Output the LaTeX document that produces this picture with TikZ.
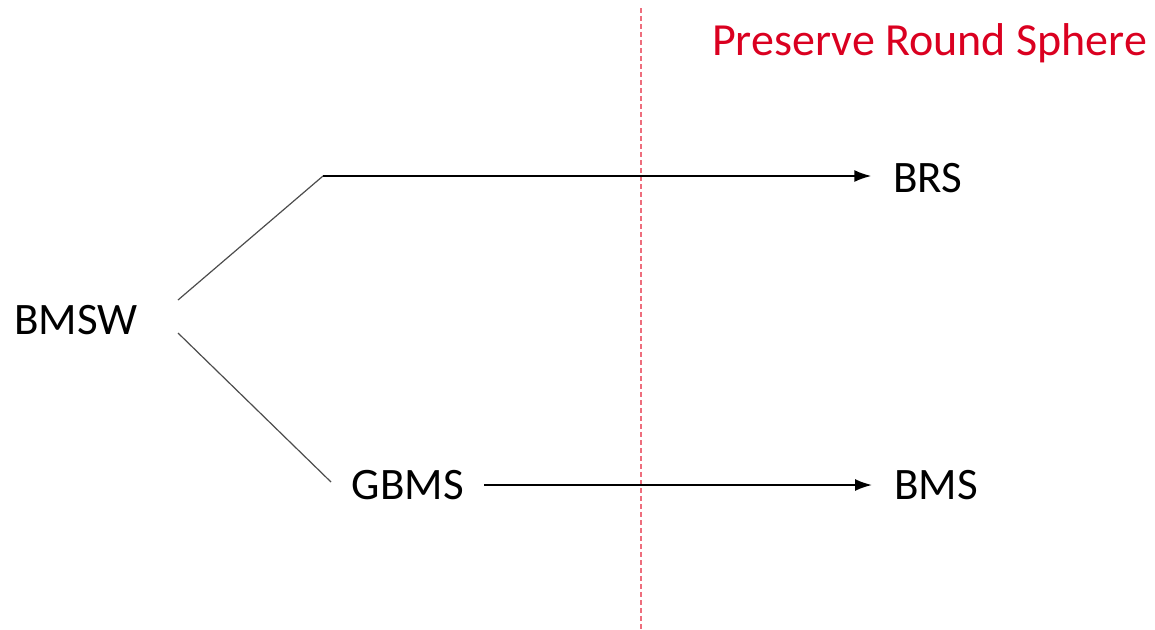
\documentclass[tikz,border=0pt]{standalone}
\usepackage{fontspec}
\setmainfont{Carlito}
\usetikzlibrary{arrows.meta}
\definecolor{slidered}{RGB}{218,0,32}
\definecolor{dashred}{RGB}{238,110,125}
\tikzset{
  term/.style={inner sep=0pt, font=\fontsize{45}{50}\selectfont},
  branch/.style={line width=1.2pt, draw=black!70},
  flow/.style={line width=1.8pt, -{Latex[length=17pt,width=12pt]}},
}
\begin{document}
\begin{tikzpicture}[x=1pt,y=-1pt]
\useasboundingbox (0,0) rectangle (1155,629);
% divider
\draw[draw=dashred, line width=1.1pt, dash pattern=on 5pt off 3pt] (641,8) -- (641,629);
\node[term, text=slidered, anchor=base west, font=\fontsize{46}{52}\selectfont] (title) at (712,55) {Preserve Round Sphere};
% terms
\node[term] (bmsw) at (76,320) {BMSW};
\node[term] (gbms) at (408,485) {GBMS};
\node[term] (brs) at (928,178) {BRS};
\node[term] (bms) at (936,485) {BMS};
\coordinate (bmswup) at (178,300);
\coordinate (bmswdown) at (178,333);
\coordinate (corner) at (323,176);
\coordinate (gbmsin) at (331,482);
% connectors
\draw[branch] (bmswup) -- (corner);
\draw[flow, shorten >=22pt] (corner) -- (corner -| brs.west);
\draw[branch] (bmswdown) -- (gbmsin);
\draw[flow, shorten <=20pt, shorten >=22pt] (gbms.east) -- (bms.west);
\end{tikzpicture}
\end{document}
